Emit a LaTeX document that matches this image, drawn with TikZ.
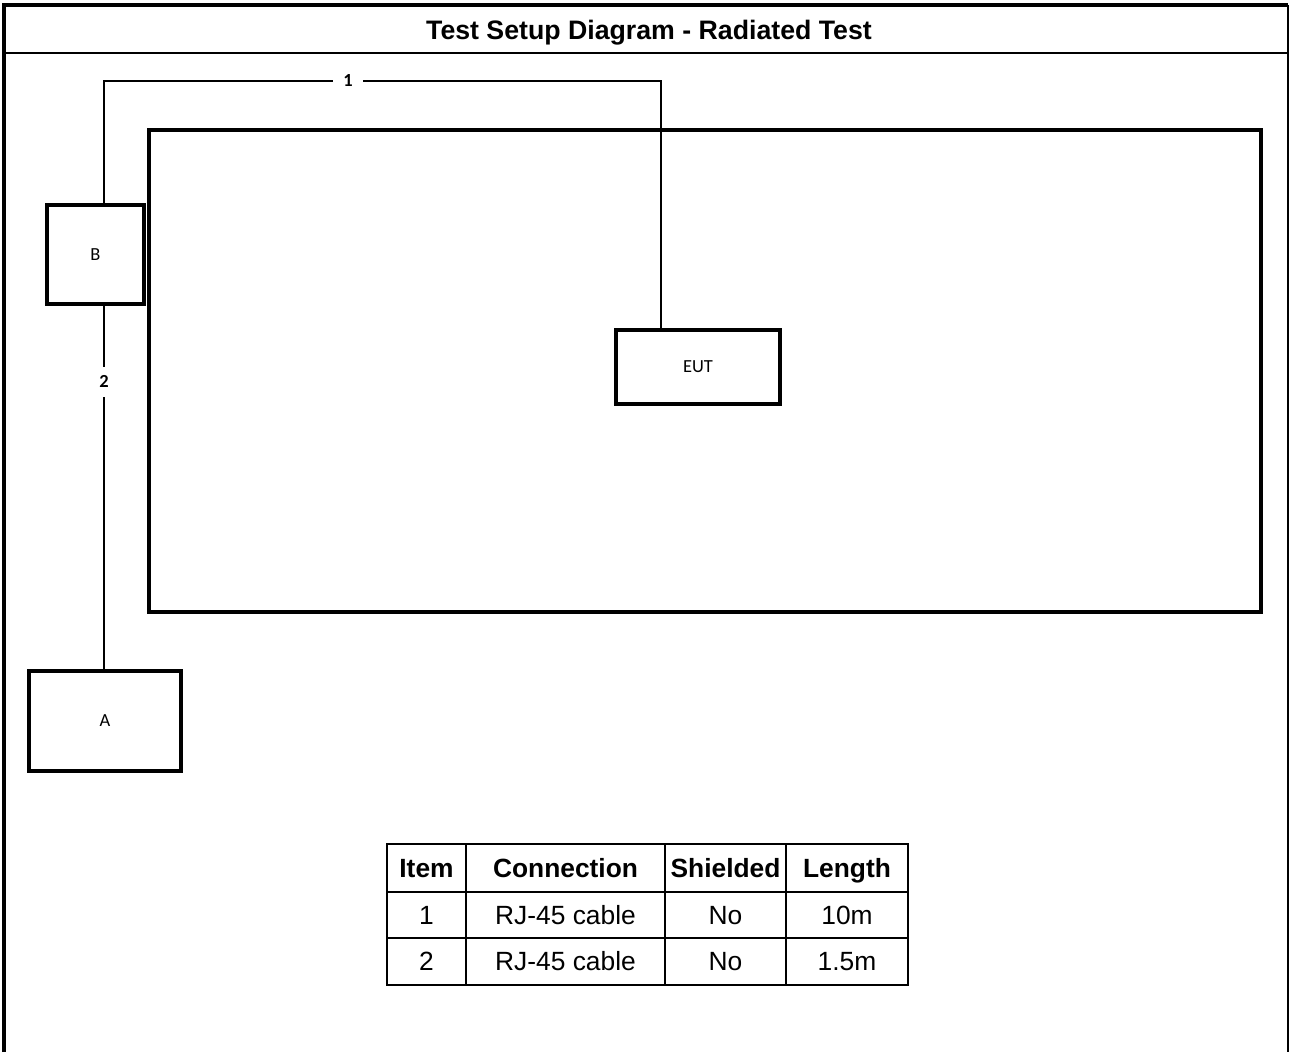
\documentclass[tikz,border=0pt]{standalone}
\usepackage{fontspec}
\setmainfont{Liberation Sans}
\newfontfamily\labelfont{Carlito}
\usepackage{tikz}

\tikzset{
  unitbox/.style={draw, line width=2pt, inner sep=0pt, font=\labelfont\fontsize{10.5}{12}\selectfont},
  cable/.style={line width=1.2pt},
  cablelabel/.style={fill=white, inner xsep=6pt, inner ysep=5pt, font=\labelfont\bfseries\fontsize{10.5}{12}\selectfont},
  cell/.style={text height=11pt, text depth=3pt, font=\fontsize{15}{18}\selectfont},
  headcell/.style={text height=11pt, text depth=3pt, font=\bfseries\fontsize{15}{18}\selectfont}
}

\begin{document}
\begin{tikzpicture}[x=0.02cm, y=-0.02cm]
        \useasboundingbox (0,0) rectangle (1290,1052);

        % Frame and title
        \draw[line width=1.9pt] (4,1052) -- (4,5) -- (1288,5);
        \draw[line width=1.2pt] (1288,5) -- (1288,1052);
        \draw[line width=1.3pt] (4,53) -- (1288,53);
        \node[font=\bfseries\fontsize{15.2}{18}\selectfont] (title) at (649,33) {Test Setup Diagram - Radiated Test};

        % Test chamber
        \node[unitbox, minimum width=22.24cm, minimum height=9.64cm] (chamber) at (705,371) {};

        % Units
        \node[unitbox, minimum width=1.94cm, minimum height=1.98cm] (B) at (95.5,254.5) {B};
        \node[unitbox, minimum width=3.28cm, minimum height=1.48cm] (EUT) at (698,367) {EUT};
        \node[unitbox, minimum width=3.04cm, minimum height=2.0cm] (A) at (105,721) {A};

        % Cables
        \coordinate (c1) at (104,81);
        \coordinate (c2) at (661,81);
        \draw[cable] (B.north -| c1) -- (c1) -- node[cablelabel, pos=0.438] {1} (c2) -- (EUT.north -| c2);
        \draw[cable] (B.south -| c1) -- node[cablelabel, pos=0.209] {2} (A.north -| c1);

        % Cable table
        \draw[line width=1.5pt] (387,844) rectangle (908,985);
        \foreach \x in {466,665,786}
            \draw[line width=1.5pt] (\x,844) -- (\x,985);
        \foreach \y in {892,938}
            \draw[line width=1.5pt] (387,\y) -- (908,\y);
        \node[headcell] (h1) at (426.5,870) {Item};
        \node[headcell] (h2) at (565.5,870) {Connection};
        \node[headcell] (h3) at (725.5,870) {Shielded};
        \node[headcell] (h4) at (847,870) {Length};
        \node[cell] (r1a) at (426.5,917) {1};
        \node[cell] (r1b) at (565.5,917) {RJ-45 cable};
        \node[cell] (r1c) at (725.5,917) {No};
        \node[cell] (r1d) at (847,917) {10m};
        \node[cell] (r2a) at (426.5,963.5) {2};
        \node[cell] (r2b) at (565.5,963.5) {RJ-45 cable};
        \node[cell] (r2c) at (725.5,963.5) {No};
        \node[cell] (r2d) at (847,963.5) {1.5m};
    \end{tikzpicture}
\end{document}
